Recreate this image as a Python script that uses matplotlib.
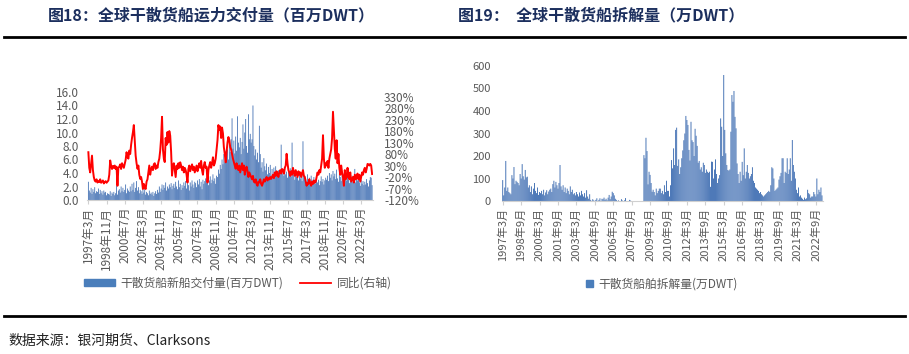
import numpy as np
import matplotlib.pyplot as plt
from matplotlib.patches import Patch
from matplotlib.lines import Line2D

plt.rcParams['font.family'] = ['Noto Sans CJK SC', 'DejaVu Sans']

# monthly, 1997-03 .. 2023-03
delivery = [
    2.7, 1.4, 1.1, 1.8, 0.9, 1.6, 1.2, 1.9, 1.0, 1.3,  # 1997
    1.2, 1.7, 0.9, 1.5, 1.0, 1.3, 0.8, 1.4, 1.1, 1.2, 0.7, 1.0,  # 1998
    0.9, 0.8, 1.3, 0.6, 1.1, 0.9, 1.2, 0.7, 1.0, 2.1, 0.8, 1.4,  # 1999
    1.6, 1.1, 2.0, 1.3, 1.8, 1.2, 1.5, 2.3, 1.0, 1.7, 1.4, 1.2,  # 2000
    2.0, 1.3, 2.4, 1.5, 2.6, 1.2, 1.8, 2.8, 1.4, 1.9, 1.0, 1.5,  # 2001
    1.3, 0.9, 1.6, 1.1, 2.2, 0.8, 1.2, 1.0, 0.7, 1.4, 0.9, 1.1,  # 2002
    0.8, 1.2, 0.6, 1.0, 1.3, 0.9, 1.5, 1.1, 2.0, 1.2, 1.7, 2.3,  # 2003
    1.5, 2.2, 1.8, 2.6, 1.4, 2.0, 1.7, 2.3, 1.9, 2.5, 1.6, 2.1,  # 2004
    2.4, 1.8, 2.7, 2.0, 1.6, 2.9, 1.9, 2.4, 1.5, 2.2, 1.8, 2.6,  # 2005
    2.1, 2.8, 1.7, 2.5, 2.2, 1.4, 2.6, 2.0, 2.9, 2.3, 1.8, 2.7,  # 2006
    2.5, 1.9, 2.9, 2.3, 3.1, 2.0, 2.7, 1.6, 3.0, 2.4, 2.8, 3.2,  # 2007
    2.6, 3.3, 2.2, 2.9, 3.5, 2.5, 3.0, 3.8, 2.8, 3.2, 2.4, 3.6,  # 2008
    3.4, 4.5, 3.9, 5.2, 4.6, 6.0, 5.3, 6.8, 5.6, 7.2, 6.2, 7.5,  # 2009
    6.0, 8.2, 7.1, 9.0, 12.1, 7.6, 8.8, 6.9, 9.4, 7.3, 12.4, 8.5,  # 2010
    7.8, 9.2, 6.8, 8.6, 11.2, 7.6, 10.0, 12.0, 8.0, 7.0, 12.7, 9.0,  # 2011
    9.8, 8.5, 9.0, 14.0, 8.0, 6.6, 7.5, 6.0, 7.0, 5.6, 11.0, 6.8,  # 2012
    4.8, 5.6, 4.2, 6.2, 5.0, 4.4, 5.4, 3.8, 4.9, 4.0, 5.2, 3.6,  # 2013
    4.6, 3.5, 4.8, 3.9, 5.0, 4.2, 3.4, 4.4, 3.7, 4.1, 8.2, 3.9,  # 2014
    4.5, 3.6, 4.9, 3.8, 4.2, 3.3, 4.6, 3.9, 4.7, 3.5, 8.5, 4.0,  # 2015
    3.8, 3.0, 4.2, 3.4, 3.7, 2.9, 3.9, 3.2, 3.6, 2.8, 8.7, 3.5,  # 2016
    3.6, 3.1, 2.7, 3.8, 2.9, 3.3, 2.5, 3.6, 3.0, 2.6, 3.4, 2.9,  # 2017
    2.4, 3.2, 2.6, 3.0, 2.2, 2.8, 3.5, 2.7, 3.1, 2.3, 2.9, 3.3,  # 2018
    3.0, 3.6, 2.8, 4.0, 3.3, 3.8, 2.9, 4.3, 3.5, 3.9, 3.1, 4.5,  # 2019
    3.2, 2.7, 4.6, 3.4, 2.8, 3.9, 3.1, 3.6, 2.6, 3.3, 2.9, 3.7,  # 2020
    3.0, 2.5, 3.4, 2.8, 3.6, 2.7, 3.1, 4.6, 2.6, 3.3, 2.9, 3.5,  # 2021
    2.6, 2.1, 3.0, 2.4, 2.8, 2.2, 2.7, 2.3, 3.1, 2.5, 2.0, 2.9,  # 2022
    3.4, 3.3, 2.2,  # 2023
]

yoy = [
    88, 20, 0, 35, 73, 10, -20, -35, -40, -30,  # 1997
    -44, -38, -42, -30, -45, -40, -35, -48, -42, -38, -45, -40,  # 1998
    -35, -10, 52, 30, 15, 28, 20, 30, 15, 25, -58, 20,  # 1999
    25, 35, 15, 40, 30, 20, 38, 55, 88, 70, 60, 95,  # 2000
    80, 120, 150, 175, 206, 140, 73, 40, 16, 30, -10, -28,  # 2001
    -20, -40, -72, -50, -65, -72, -40, -30, 0, 30, -10, 15,  # 2002
    25, 10, 35, 40, 15, 30, 20, 45, 60, 95, 150, 242,  # 2003
    100, 60, 45, 150, 120, 176, 130, 180, 160, 90, -14, 30,  # 2004
    40, 10, -20, 30, 15, 40, 20, 44, 30, 10, 25, 0,  # 2005
    20, 10, -10, -44, 15, 30, 5, 20, 35, 10, 25, 0,  # 2006
    15, 30, 5, 25, 40, 20, 50, 10, -10, 30, 45, 20,  # 2007
    25, -44, 10, 30, 45, 20, 40, 66, 30, 40, 60, 100,  # 2008
    140, 206, 185, 200, 150, 195, 170, 110, 80, 44, 90, 130,  # 2009
    154, 140, 110, 100, 80, 60, 44, 30, 16, 40, 20, 10,  # 2010
    30, 0, 20, 40, 10, 30, -10, 15, 25, 5, -20, 0,  # 2011
    -10, -20, -30, -15, -40, -44, -30, -50, -58, -40, -44, -30,  # 2012
    -50, -58, -45, -30, -40, -28, -20, -35, -25, -30, -20, -28,  # 2013
    -20, -10, -25, 0, -15, 5, -10, -20, 0, 10, -5, 15,  # 2014
    10, -5, 20, 30, 81, 40, 10, 0, -15, 5, -10, 20,  # 2015
    0, -15, 10, -5, -20, 5, -10, 0, -20, -5, 10, -15,  # 2016
    -20, -40, -58, -45, -50, -30, -45, -58, -40, -50, -35, -45,  # 2017
    -40, -20, 0, -10, 10, 0, 30, 60, 162, 60, 20, 40,  # 2018
    30, 50, 20, 60, 80, 100, 150, 264, 180, 103, 60, 140,  # 2019
    40, 80, 20, -10, 30, 0, -20, -58, 10, -30, -20, 20,  # 2020
    -20, -30, 0, -40, -30, -20, -44, -10, -30, -20, -5, -30,  # 2021
    -10, -40, -20, 0, -10, 10, 20, 0, 15, 37, 35, 30,  # 2022
    37, 30, -7,  # 2023
]

scrap = [
    93, 25, 60, 178, 45, 60, 40, 35, 30, 115,  # 1997
    100, 151, 75, 90, 85, 80, 70, 120, 100, 164, 110, 95,  # 1998
    138, 105, 108, 60, 70, 40, 65, 30, 55, 80, 45, 35,  # 1999
    60, 27, 40, 35, 45, 30, 50, 25, 38, 48, 30, 42,  # 2000
    50, 55, 40, 75, 90, 60, 85, 70, 55, 80, 160, 65,  # 2001
    50, 70, 40, 60, 35, 55, 45, 30, 65, 40, 50, 30,  # 2002
    35, 25, 40, 30, 20, 38, 25, 45, 30, 20, 35, 15,  # 2003
    48, 20, 10, 30, 5, 0, 8, 3, 0, 5, 12, 0,  # 2004
    5, 12, 0, 10, 8, 15, 5, 10, 3, 15, 27, 8,  # 2005
    20, 41, 35, 25, 10, 5, 0, 3, 0, 0, 8, 2,  # 2006
    0, 3, 13, 0, 0, 0, 5, 2, 0, 0, 0, 0,  # 2007
    0, 0, 0, 0, 0, 0, 0, 0, 204, 190, 281, 222,  # 2008
    74, 130, 116, 80, 41, 50, 40, 25, 55, 35, 45, 55,  # 2009
    55, 35, 45, 30, 70, 40, 90, 45, 45, 20, 70, 182,  # 2010
    145, 234, 160, 316, 326, 156, 185, 120, 150, 190, 225, 270,  # 2011
    300, 378, 360, 338, 227, 180, 352, 270, 262, 200, 321, 290,  # 2012
    245, 170, 178, 140, 150, 130, 170, 160, 125, 140, 130, 125,  # 2013
    130, 63, 175, 174, 100, 140, 185, 120, 80, 100, 115, 367,  # 2014
    330, 200, 560, 316, 212, 160, 138, 135, 140, 308, 471, 441,  # 2015
    489, 374, 323, 167, 120, 80, 130, 90, 174, 115, 234, 100,  # 2016
    130, 160, 125, 100, 110, 120, 150, 90, 80, 60, 55, 50,  # 2017
    45, 35, 40, 30, 25, 20, 25, 30, 35, 40, 45, 40,  # 2018
    70, 150, 145, 100, 45, 50, 55, 60, 95, 110, 125, 190,  # 2019
    190, 80, 130, 125, 190, 120, 140, 190, 90, 271, 160, 130,  # 2020
    100, 50, 35, 60, 20, 25, 15, 10, 5, 15, 8, 12,  # 2021
    50, 35, 30, 15, 20, 20, 40, 30, 20, 100, 30, 50,  # 2022
    40, 60, 25,  # 2023
]

left_ticks = ['1997年3月', '1998年11月', '2000年7月', '2002年3月', '2003年11月', '2005年7月',
              '2007年3月', '2008年11月', '2010年7月', '2012年3月', '2013年11月', '2015年7月',
              '2017年3月', '2018年11月', '2020年7月', '2022年3月']
right_ticks = ['1997年3月', '1998年9月', '2000年3月', '2001年9月', '2003年3月', '2004年9月',
               '2006年3月', '2007年9月', '2009年3月', '2010年9月', '2012年3月', '2013年9月',
               '2015年3月', '2016年9月', '2018年3月', '2019年9月', '2021年3月', '2022年9月']

months = [f"{y}年{m}月" for y in range(1997, 2024) for m in range(1, 13)][2:2 + len(delivery)]

BLUE = '#3566ae'
LEG_BLUE = '#4a7ebb'
GREY = '#595959'
TITLE = '#1c2f5e'

fig = plt.figure(figsize=(9.09, 3.54), dpi=100)

fig.text(48/909, 1-15/354, '图18：全球干散货船运力交付量（百万DWT）', fontsize=11.5,
         fontweight='bold', color=TITLE, va='center')
fig.text(458/909, 1-15/354, '图19：  全球干散货船拆解量（万DWT）', fontsize=11.5,
         fontweight='bold', color=TITLE, va='center')
fig.add_artist(Line2D([4/909, 905/909], [1-37/354]*2, color='black', lw=2))
fig.add_artist(Line2D([4/909, 905/909], [1-316/354]*2, color='black', lw=2))
fig.text(8/909, 1-341/354, '数据来源：银河期货、Clarksons', fontsize=10, color='#222222', va='center')


def style_axis(ax, labels, fs):
    for s in ['top', 'right', 'left']:
        ax.spines[s].set_visible(False)
    ax.spines['bottom'].set_color('#d0d0d0')
    pos = [months.index(t) for t in labels]
    ax.set_xticks(pos)
    ax.set_xticklabels(labels, rotation=90, fontsize=fs, color=GREY)
    ax.tick_params(axis='x', length=3, color='#d0d0d0', pad=2)
    ax.tick_params(axis='y', length=0, labelsize=fs, labelcolor=GREY)


# left chart
ax1 = fig.add_axes([87/909, 1-200/354, 286/909, 108/354])
x = np.arange(len(delivery))
bars = ax1.bar(x, delivery, width=0.85, color=BLUE, linewidth=0)
for b in bars:
    b.set_snap(False)
ax1.set_xlim(-1.5, len(delivery))
ax1.set_ylim(0, 16)
ax1.set_yticks(np.arange(0, 17, 2))
ax1.set_yticklabels([f'{v:.1f}' for v in np.arange(0, 17, 2)])
style_axis(ax1, left_ticks, 8.5)
ax1.tick_params(axis='y', pad=6)

ax2 = ax1.twinx()
ax2.plot(x, yoy, color='#ff0000', lw=1.4)
ax2.set_ylim(-120, 350)
ax2.set_yticks(range(-120, 331, 50))
ax2.set_yticklabels([f'{v}%' for v in range(-120, 331, 50)])
for s in ['top', 'right', 'left', 'bottom']:
    ax2.spines[s].set_visible(False)
ax2.tick_params(axis='y', length=0, labelsize=8.5, labelcolor=GREY, pad=8)

ax1.legend([Patch(color=LEG_BLUE), Line2D([], [], color='#ff0000', lw=1.3)],
           ['干散货船新船交付量(百万DWT)', '同比(右轴)'],
           loc='center', bbox_to_anchor=(238/909, 1-283/354), bbox_transform=fig.transFigure,
           ncol=2, frameon=False, fontsize=8.5, labelcolor=GREY,
           handlelength=2.6, handleheight=0.6, columnspacing=1.4, handletextpad=0.5)

# right chart
ax3 = fig.add_axes([502/909, 1-201/354, 321/909, 135/354])
xr = np.arange(len(scrap))
bars = ax3.bar(xr, scrap, width=0.85, color=BLUE, linewidth=0)
for b in bars:
    b.set_snap(False)
ax3.set_xlim(-0.7, len(scrap))
ax3.set_ylim(0, 600)
ax3.set_yticks(range(0, 601, 100))
style_axis(ax3, right_ticks, 8)
ax3.tick_params(axis='y', pad=8)
ax3.legend([Patch(color=LEG_BLUE)], ['干散货船舶拆解量(万DWT)'],
           loc='center', bbox_to_anchor=(662/909, 1-284/354), bbox_transform=fig.transFigure,
           frameon=False, fontsize=8.5, labelcolor=GREY,
           handlelength=0.6, handleheight=0.6, handletextpad=0.4)

fig.savefig('out.png', dpi=100)
